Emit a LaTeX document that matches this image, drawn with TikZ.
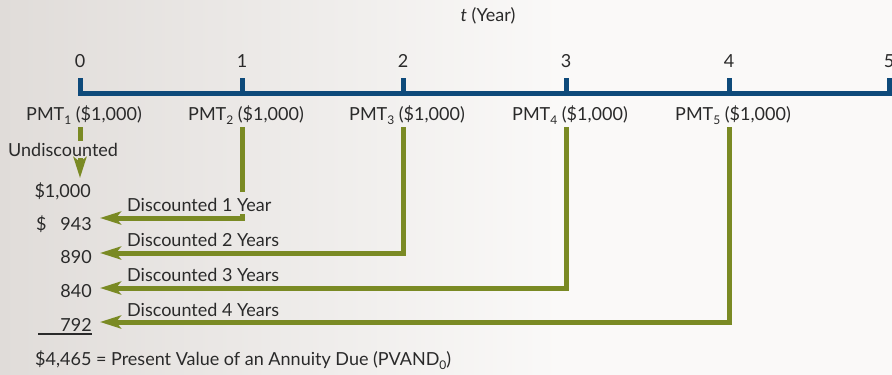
\documentclass[tikz,border=0pt]{standalone}
\usepackage{fontspec}
\setmainfont{Lato}
\usetikzlibrary{arrows.meta}
\definecolor{bgleft}{HTML}{E0DCD9}
\definecolor{bgright}{HTML}{FAF9F8}
\definecolor{axisblue}{HTML}{0E4A7A}
\definecolor{flowgreen}{HTML}{7A8A24}
\definecolor{ink}{HTML}{2A2A2A}
\newcommand{\lowsub}[1]{\raisebox{-0.45ex}{\fontsize{12}{14}\selectfont #1}}
\tikzset{
  lbl/.style={inner sep=0pt, font=\fontsize{18}{21}\selectfont, text=ink, anchor=base},
  lblw/.style={lbl, anchor=base west},
  lble/.style={lbl, anchor=base east},
  axis/.style={draw=axisblue, line width=5pt},
  flow/.style={draw=flowgreen, line width=5pt,
    -{Stealth[length=21pt,width=13pt,inset=5pt]}},
  flowplain/.style={draw=flowgreen, line width=5pt},
}
\begin{document}
\begin{tikzpicture}[x=1pt,y=-1pt]
  % backdrop
  \useasboundingbox (0,0) rectangle (892,375);
  \shade[left color=bgleft, right color=bgright] (0,0) rectangle (560,375);
  \fill[bgright] (559,0) rectangle (892,375);

  % time axis
  \coordinate (t0) at (80,93);
  \coordinate (t1) at (242,93);
  \coordinate (t2) at (403,93);
  \coordinate (t3) at (566,93);
  \coordinate (t4) at (729,93);
  \coordinate (t5) at (889,93);
  \coordinate (axisend) at (895,93);
  \draw[axis] ([yshift=15pt]t0) -- (t0) -- (axisend);
  \foreach \i in {1,...,5} \draw[axis] (t\i) -- ([yshift=15pt]t\i);

  \node[lbl] (title) at (488,21) {\textit{t} (Year)};
  \foreach \i in {0,...,5}
    \node[lbl] (n\i) at ([yshift=26pt]t\i) {\i};

  % payments
  \foreach \i/\k in {0/1,1/2,2/3,3/4,4/5}
    \node[lbl] (p\i) at ([xshift=4pt,yshift=-27pt]t\i) {PMT\lowsub{\k} (\$1,000)};

  % present values
  \node[lblw] (undisc) at (8,156) {Undiscounted};
  \node[lble] (v0) at (91,197) {\$1,000};
  \node[lblw] (dol) at (36,230) {\$};
  \node[lble] (v1) at (92,230) {943};
  \node[lble] (v2) at (92,263) {890};
  \node[lble] (v3) at (92,297) {840};
  \node[lble] (v4) at (92,331) {792};
  \draw[ink, line width=1.2pt] (38,334) -- (v4.south east |- 0,334);
  \node[lblw] (total) at (35,365) {\$4,465 = Present Value of an Annuity Due (PVAND\lowsub{0})};

  \node[lblw] (d1) at (127,211) {Discounted 1 Year};
  \node[lblw] (d2) at (127,246) {Discounted 2 Years};
  \node[lblw] (d3) at (127,281) {Discounted 3 Years};
  \node[lblw] (d4) at (127,316) {Discounted 4 Years};

  % undiscounted first payment
  \coordinate (s0) at (80,127);
  \coordinate (s0b) at (80,141);
  \coordinate (a0) at (80,158);
  \coordinate (e0) at (80,178);
  \draw[flowplain] (s0) -- (s0b);
  \draw[flow] (a0) -- (e0);

  % one-year flow, broken where it crosses its label
  \coordinate (s1) at ([yshift=-34pt]t1);
  \coordinate (s1b) at (242,192);
  \coordinate (s1c) at (242,214);
  \coordinate (e1) at (100,218);
  \draw[flowplain] (s1) -- (s1b);
  \draw[flow] (s1c) |- (e1);

  % longer flows
  \foreach \i/\y in {2/253,3/288,4/322}{
    \coordinate (s\i) at ([yshift=-34pt]t\i);
    \coordinate (e\i) at (100,\y);
    \draw[flow] (s\i) |- (e\i);
  }
\end{tikzpicture}
\end{document}
